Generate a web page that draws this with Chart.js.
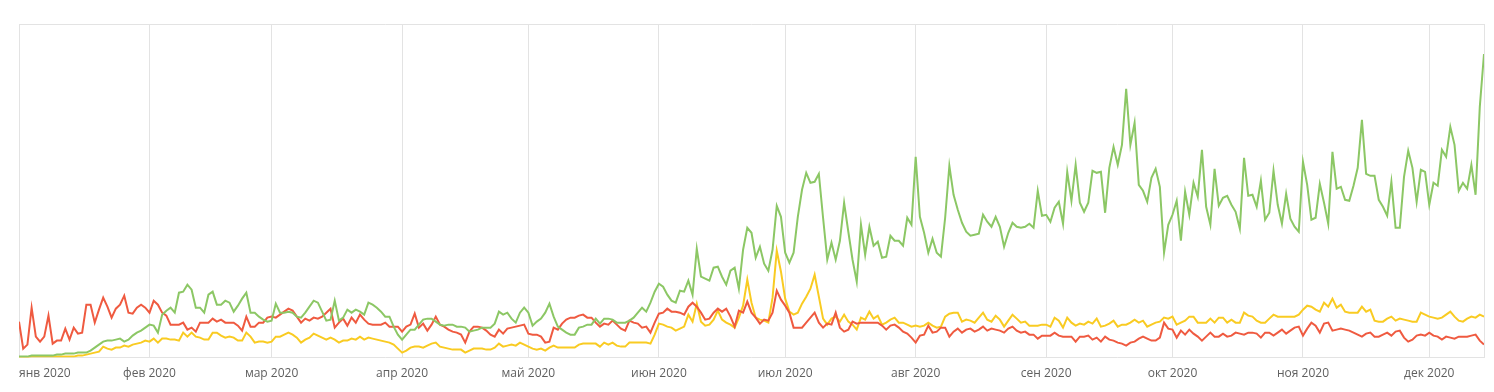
<!DOCTYPE html>
<html>
<head>
<meta charset="utf-8">
<script src="https://cdn.jsdelivr.net/npm/chart.js@4/dist/chart.umd.min.js"></script>
<style>
  html, body { margin: 0; padding: 0; background: #fff; }
  #wrap { width: 1494px; height: 392px; }
</style>
</head>
<body>
<div id="wrap"><canvas id="grafico" width="1494" height="392"></canvas></div>
<script>
// Días desde el 1 de enero de 2020 (0..348 = 14 dic 2020)
const inicioMes = [0, 31, 60, 91, 121, 152, 182, 213, 244, 274, 305, 335];
const etiquetasMes = ['янв 2020', 'фев 2020', 'мар 2020', 'апр 2020', 'май 2020', 'июн 2020',
                      'июл 2020', 'авг 2020', 'сен 2020', 'окт 2020', 'ноя 2020', 'дек 2020'];
const ultimoDia = 348;

const serieVerde = [
  1,1,1,2,2,2,2,2,2,3, 3,4,4,4,5,5,5,7,10,13, 16,17,17,18,19,16,18,22,25,27,
  30,33,32,25,43,47,50,45,65,66, 73,68,50,50,45,63,66,53,53,57, 55,46,52,59,65,45,45,41,38,36,
  37,54,45,45,46,45,41,40,45,51, 57,55,46,37,38,57,37,40,48,45, 48,46,43,55,53,50,46,41,41,31,
  23,18,23,28,28,33,38,39,39,36, 33,32,33,33,31,31,30,26,27,28, 30,30,30,34,46,43,45,39,35,45,
  50,45,32,36,39,45,54,41,31,28, 25,23,23,30,31,33,33,39,34,39, 39,38,35,35,35,37,40,45,50,46,
  55,66,74,71,63,57,55,67,66,77, 63,109,81,79,77,90,91,81,73,87, 90,69,108,130,125,100,111,94,87,108,
  152,141,105,95,105,141,168,185,175,176, 184,140,98,115,98,117,155,126,98,76,
  133,103,131,112,116,100,101,122,117,117, 112,140,133,201,141,125,105,119,105,101,
  140,192,163,148,135,126,122,123,124,143, 136,131,141,131,111,125,135,131,130,131,
  134,130,167,142,143,136,150,156,134,186, 157,193,155,146,155,187,185,186,145,190,
  211,193,213,269,213,235,173,167,156,180, 189,171,105,133,143,157,117,166,143,175,
  161,208,151,133,189,152,160,162,153,146, 129,200,162,163,151,177,138,145,187,153,
  134,164,139,131,126,196,173,138,140,174, 155,134,206,169,171,158,157,172,190,238,
  184,182,182,158,151,142,176,130,130,181, 207,190,156,188,186,153,175,172,208,201,
  231,213,167,175,169,193,163,251,304
];

const serieRoja = [
  36,9,13,50,21,16,21,42,14,17, 17,29,18,30,24,25,53,53,35,48, 60,51,40,49,53,62,45,44,50,53,
  50,45,57,53,45,42,33,33,33,35, 28,30,26,35,35,35,39,36,38,35, 35,35,32,27,41,31,31,35,35,40,
  41,40,43,46,49,47,41,35,39,37, 40,39,41,45,49,30,35,39,32,40, 35,43,38,34,33,33,33,35,31,31,
  31,26,31,33,44,30,34,27,33,41, 33,31,28,26,25,23,15,26,31,31, 30,27,23,21,28,24,29,30,31,32,
  33,24,23,23,21,15,16,30,28,34, 38,40,40,42,43,40,40,35,31,34, 33,37,33,29,27,37,35,34,30,31,
  25,35,44,45,49,46,46,45,43,51, 55,51,45,38,39,45,49,46,49,41, 31,47,45,56,45,40,34,38,37,45,
  67,58,52,45,30,30,30,35,40,45, 35,30,34,33,45,30,26,28,36,34,
  35,35,35,35,35,32,28,32,33,30, 26,24,20,15,22,23,32,25,26,30,
  30,21,26,29,25,28,29,26,28,31, 27,29,28,27,25,29,31,27,25,26,
  23,23,19,22,22,22,25,22,21,21, 21,16,21,21,22,18,20,16,21,18,
  17,15,14,12,15,16,19,21,19,17, 17,20,35,29,28,20,27,23,28,24,
  21,17,21,25,21,21,24,21,22,25, 24,23,25,25,24,20,25,25,22,25,
  28,24,27,30,31,22,29,35,32,25, 34,35,27,28,29,28,27,25,23,21,
  24,25,21,21,23,25,22,26,27,20, 16,18,22,23,22,25,22,21,18,21,
  20,19,21,21,21,22,23,17,13
];

const serieAmarilla = [
  0,0.5,0.5,1,1,1,1,1,1,1, 1,1,1,1,2,2,3,4,5,6, 11,9,8,10,10,12,11,13,14,15,
  17,16,19,15,19,19,18,18,17,25, 21,25,21,20,18,18,25,25,22,20, 21,20,17,17,25,21,15,16,16,15,
  16,21,21,23,25,23,20,15,18,20, 24,22,20,18,20,18,15,17,17,19, 18,21,18,20,19,18,17,16,15,13,
  9,5,7,10,11,11,10,12,14,15, 11,10,9,8,8,8,5,7,9,9, 9,8,8,10,14,11,12,13,12,15,
  13,11,9,8,9,7,10,12,10,10, 10,10,10,13,14,14,14,14,11,15, 13,15,12,11,11,15,15,15,15,15,
  14,23,34,33,31,30,27,29,31,43, 36,54,36,32,33,38,47,38,35,33, 30,40,52,78,55,40,38,37,35,60,
  107,86,59,46,43,45,54,61,69,83, 61,39,33,39,41,36,43,36,33,28,
  40,38,46,39,42,33,35,38,40,35, 35,33,31,32,31,32,35,32,30,31,
  41,44,45,45,36,38,37,35,40,45, 38,36,42,38,31,37,43,39,35,36,
  32,32,32,33,33,31,40,37,30,40, 35,32,34,33,36,34,39,31,32,34,
  37,31,33,33,35,38,35,37,31,33, 35,36,40,39,41,33,35,37,41,41,
  35,35,35,39,35,40,40,35,38,35, 35,45,42,41,37,35,35,39,43,41,
  41,41,41,41,43,48,52,51,48,46, 55,51,59,50,53,46,45,45,45,51,
  46,48,37,36,36,39,41,37,39,38, 37,36,36,45,43,41,40,39,40,43,
  46,41,37,36,39,41,40,43,41
];

const maxY = 334;

function aPuntos(valores) {
  return valores.map((v, i) => ({ x: i, y: v }));
}

function linea(valores, color) {
  return {
    data: aPuntos(valores),
    borderColor: color,
    backgroundColor: color,
    borderWidth: 2,
    pointRadius: 0,
    tension: 0,
    fill: false
  };
}

const ctx = document.getElementById('grafico').getContext('2d');
new Chart(ctx, {
  type: 'line',
  data: {
    datasets: [
      linea(serieVerde, '#8cc765'),
      linea(serieRoja, '#ef5a40'),
      linea(serieAmarilla, '#f9cb22')
    ]
  },
  options: {
    responsive: false,
    animation: false,
    devicePixelRatio: 1,
    layout: { padding: { left: 19, right: 10, top: 24, bottom: 2 } },
    plugins: { legend: { display: false }, tooltip: { enabled: false } },
    scales: {
      x: {
        type: 'linear',
        min: 0,
        max: ultimoDia,
        afterBuildTicks: function(eje) {
          eje.ticks = inicioMes.concat([ultimoDia]).map(v => ({ value: v }));
        },
        grid: { color: '#e3e3e3', drawTicks: false },
        border: { display: false },
        ticks: {
          autoSkip: false,
          maxRotation: 0,
          align: 'inner',
          padding: 9,
          color: '#5f5f5f',
          font: { family: 'Open Sans', size: 12 },
          callback: function(valor) {
            const idx = inicioMes.indexOf(valor);
            return idx >= 0 ? etiquetasMes[idx] : '';
          }
        }
      },
      y: {
        min: 0,
        max: maxY,
        afterBuildTicks: function(eje) {
          eje.ticks = [{ value: 0 }, { value: maxY }];
        },
        grid: { color: '#e3e3e3', drawTicks: false },
        border: { display: false },
        ticks: { display: false }
      }
    }
  }
});
</script>
</body>
</html>
